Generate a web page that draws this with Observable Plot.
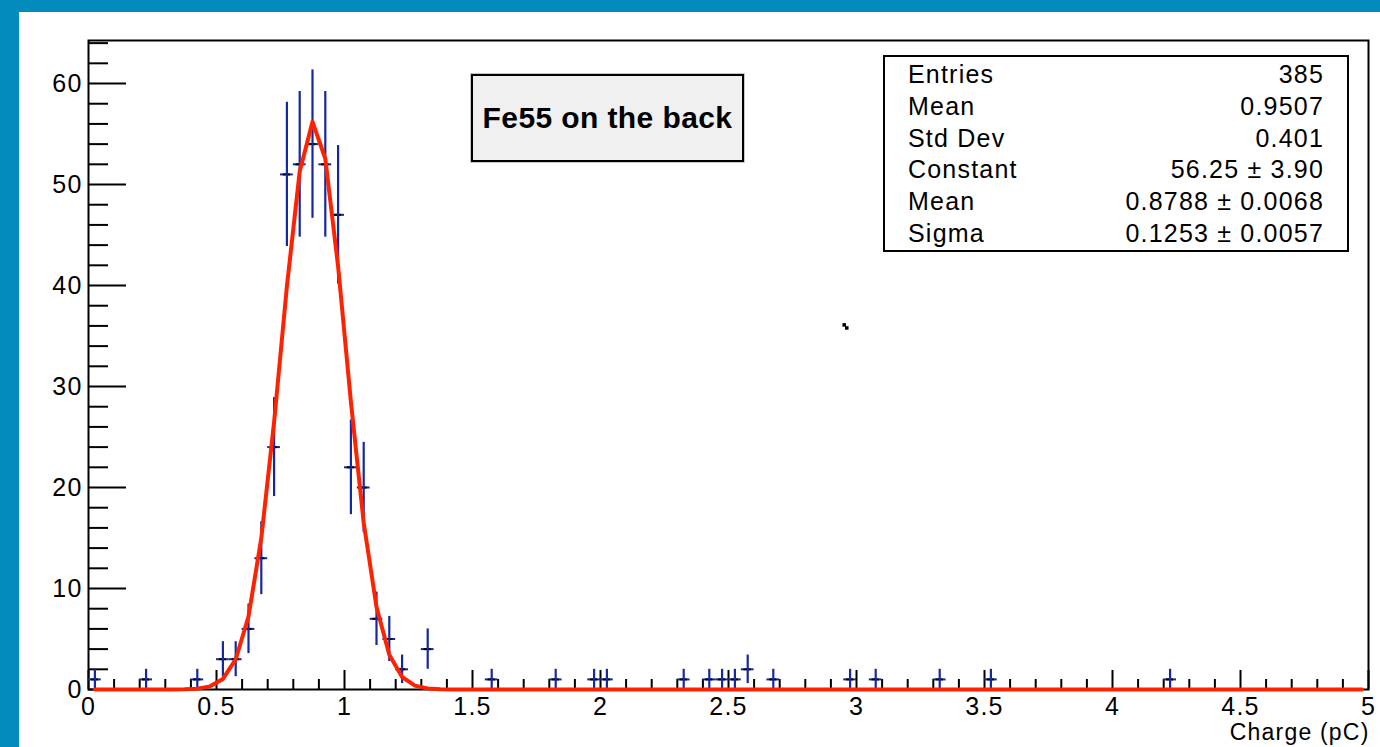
<!DOCTYPE html>
<html>
<head>
<meta charset="utf-8">
<script src="https://cdn.jsdelivr.net/npm/d3@7"></script>
<script src="https://cdn.jsdelivr.net/npm/@observablehq/plot@0.6"></script>
<style>
  html, body { margin: 0; padding: 0; }
  body { width: 1380px; height: 747px; background: #048bbd; position: relative; overflow: hidden;
         font-family: "Liberation Sans", Arial, Helvetica, sans-serif; }
  #panel { position: absolute; left: 19px; top: 12px; width: 1361px; height: 735px; background: #ffffff; }
  #panel svg { position: absolute; left: 0; top: 0; }
  .title-box { position: absolute; left: 471px; top: 74px; width: 273px; height: 88px; box-sizing: border-box;
               background: #f0f0f0; border: 2px solid #000; outline: 1px solid #c8c8c8;
               display: flex; align-items: center; justify-content: center;
               font-weight: bold; font-size: 30px; letter-spacing: 0.4px; color: #000; }
  .stats-box { position: absolute; left: 883px; top: 55px; width: 466px; height: 197px; box-sizing: border-box;
               background: #fff; border: 2px solid #000; padding: 2px 23px 0 23px;
               font-size: 25px; letter-spacing: 1.2px; color: #000; }
  .row { display: flex; justify-content: space-between; height: 31.8px; line-height: 31.8px; white-space: nowrap; }
</style>
</head>
<body>
<div id="panel"></div>
<div class="title-box" id="title"></div>
<div class="stats-box" id="stats"></div>
<script>
// ---- data ----
const binCenters = [0.025, 0.225, 0.425, 0.525, 0.575, 0.625, 0.675, 0.725, 0.775, 0.825, 0.875, 0.925, 0.975,
                    1.025, 1.075, 1.125, 1.175, 1.225, 1.325, 1.575, 1.825, 1.975, 2.025, 2.325, 2.425, 2.475,
                    2.525, 2.575, 2.675, 2.975, 3.075, 3.325, 3.525, 4.225];
const counts     = [1, 1, 1, 3, 3, 6, 13, 24, 51, 52, 54, 52, 47,
                    22, 20, 7, 5, 2, 4, 1, 1, 1, 1, 1, 1, 1,
                    1, 2, 1, 1, 1, 1, 1, 1];
const binWidth = 0.05;
const nBins = 100;
const histMin = 0;

// Gaussian fit parameters (from the stats box)
const fitConstant = 56.25;
const fitMean = 0.8788;
const fitSigma = 0.1253;

const statLabels = ["Entries", "Mean", "Std Dev", "Constant", "Mean", "Sigma"];
const statValues = ["385", "0.9507", "0.401", "56.25 \u00b1 3.90", "0.8788 \u00b1 0.0068", "0.1253 \u00b1 0.0057"];
const titleText = "Fe55 on the back";
const xAxisLabel = "Charge (pC)";

const yTicks = [0, 10, 20, 30, 40, 50, 60];
const yTickLabels = ["0", "10", "20", "30", "40", "50", "60"];
const yMinorTicks = [2, 4, 6, 8, 12, 14, 16, 18, 22, 24, 26, 28, 32, 34, 36, 38, 42, 44, 46, 48, 52, 54, 56, 58, 62, 64];
const xTicks = [0, 0.5, 1, 1.5, 2, 2.5, 3, 3.5, 4, 4.5, 5];
const xTickLabels = ["0", "0.5", "1", "1.5", "2", "2.5", "3", "3.5", "4", "4.5", "5"];
const xMinorTicks = d3.range(0, 51).map(i => i / 10).filter(v => Math.abs(v * 2 - Math.round(v * 2)) > 1e-6);

const strayX = [2.952, 2.962];
const strayY = [36.1, 35.8];

const xDomain = [0, 5];
const yDomain = [0, 64.26];

// ---- build tables ----
const hist = binCenters.map((x, i) => ({x, n: counts[i], e: Math.sqrt(counts[i])}));
const fitPts = d3.range(nBins).map(i => {
  const x = histMin + (i + 0.5) * binWidth;
  return {x, y: fitConstant * Math.exp(-0.5 * ((x - fitMean) / fitSigma) ** 2)};
});
const stray = strayX.map((x, i) => ({x, y: strayY[i]}));

const W = 1361, H = 735, mL = 69, mR = 12, mT = 28, mB = 58;
const plotW = W - mL - mR, plotH = H - mT - mB;
const blue = "#1428a2", red = "#ff2200";

const chart = Plot.plot({
  width: W, height: H,
  marginLeft: mL, marginRight: mR, marginTop: mT, marginBottom: mB,
  style: "font-family: 'Liberation Sans', Arial, Helvetica, sans-serif; font-size: 25px; letter-spacing: 1.2px; color: #000; background: transparent; overflow: visible;",
  x: {domain: xDomain, axis: null},
  y: {domain: yDomain, axis: null},
  marks: [
    // inward ticks (ROOT style)
    Plot.tickY(yMinorTicks, {y: d => d, stroke: "#000", strokeWidth: 2, insetRight: plotW - 20}),
    Plot.tickY(yTicks, {y: d => d, stroke: "#000", strokeWidth: 2, insetRight: plotW - 38}),
    Plot.tickX(xMinorTicks, {x: d => d, stroke: "#000", strokeWidth: 2, insetTop: plotH - 10}),
    Plot.tickX(xTicks, {x: d => d, stroke: "#000", strokeWidth: 2, insetTop: plotH - 19}),
    Plot.frame({stroke: "#000", strokeWidth: 2}),
    // histogram error crosses
    Plot.ruleY(hist, {y: "n", x1: d => d.x - binWidth / 2, x2: d => d.x + binWidth / 2, stroke: blue, strokeWidth: 2}),
    Plot.ruleY(hist, {y: "n", x1: d => d.x - 0.014, x2: d => d.x + 0.014, stroke: "#000", strokeWidth: 2}),
    Plot.ruleX(hist, {x: "x", y1: d => d.n - d.e, y2: d => d.n + d.e, stroke: blue, strokeWidth: 2.2}),
    // gaussian fit
    Plot.line(fitPts, {x: "x", y: "y", stroke: red, strokeWidth: 4, strokeLinejoin: "round"}),
    // stray marker
    Plot.dot(stray, {x: "x", y: "y", symbol: "square", r: 2, fill: "#000"}),
    // tick labels
    Plot.axisY({ticks: yTicks, tickSize: 0, tickPadding: 6, fontSize: 25, label: null,
                tickFormat: d => yTickLabels[yTicks.indexOf(d)]}),
    Plot.axisX({ticks: xTicks, tickSize: 0, tickPadding: 8, fontSize: 25, label: null,
                tickFormat: d => xTickLabels[xTicks.indexOf(d)]}),
    Plot.text([xAxisLabel], {text: d => d, frameAnchor: "bottom-right", textAnchor: "end", lineAnchor: "top",
                             dy: 34, dx: 1, fontSize: 23})
  ]
});
document.getElementById("panel").appendChild(chart);

document.getElementById("title").textContent = titleText;
const stats = document.getElementById("stats");
statLabels.forEach((lab, i) => {
  const row = document.createElement("div");
  row.className = "row";
  const a = document.createElement("span"); a.textContent = lab;
  const b = document.createElement("span"); b.textContent = statValues[i];
  row.appendChild(a); row.appendChild(b);
  stats.appendChild(row);
});
</script>
</body>
</html>
